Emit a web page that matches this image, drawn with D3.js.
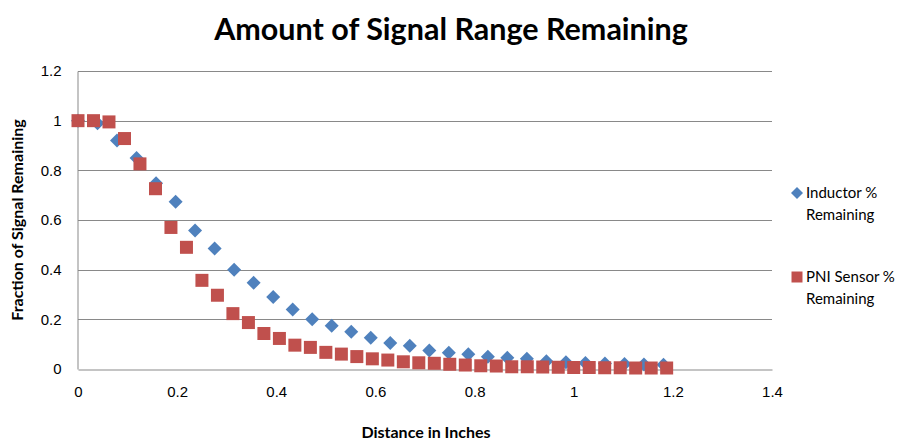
<!DOCTYPE html>
<html>
<head>
<meta charset="utf-8">
<script src="https://cdn.jsdelivr.net/npm/d3@7"></script>
<style>
  html, body { margin: 0; padding: 0; background: #fff; }
  svg { display: block; font-family: Lato, "Open Sans", sans-serif; }
</style>
</head>
<body>
<svg id="chart" width="901" height="441"></svg>
<script>
// Distances in inches for each series
const inductorDistance = [0, 0.0394, 0.0787, 0.1181, 0.1575, 0.1969, 0.2362, 0.2756, 0.315, 0.3543,
  0.3937, 0.4331, 0.4724, 0.5118, 0.5512, 0.5906, 0.6299, 0.6693, 0.7087, 0.748,
  0.7874, 0.8268, 0.8661, 0.9055, 0.9449, 0.9843, 1.0236, 1.063, 1.1024, 1.1417, 1.1811];
const inductorRemaining = [1.0, 0.99, 0.92, 0.85, 0.748, 0.673, 0.558, 0.485, 0.40, 0.347,
  0.29, 0.24, 0.20, 0.174, 0.15, 0.126, 0.105, 0.094, 0.074, 0.065,
  0.059, 0.049, 0.045, 0.041, 0.031, 0.027, 0.024, 0.022, 0.02, 0.018, 0.017];

const pniDistance = [0, 0.0313, 0.0625, 0.0938, 0.125, 0.1563, 0.1875, 0.2188, 0.25, 0.2813,
  0.3125, 0.3438, 0.375, 0.4063, 0.4375, 0.4688, 0.5, 0.5313, 0.5625, 0.5938,
  0.625, 0.6563, 0.6875, 0.7188, 0.75, 0.7813, 0.8125, 0.8438, 0.875, 0.9063,
  0.9375, 0.9688, 1.0, 1.0313, 1.0625, 1.0938, 1.125, 1.1563, 1.1875];
const pniRemaining = [1.0, 1.0, 0.995, 0.928, 0.826, 0.726, 0.57, 0.49, 0.357, 0.297,
  0.223, 0.187, 0.143, 0.123, 0.096, 0.087, 0.067, 0.06, 0.05, 0.041,
  0.036, 0.029, 0.025, 0.023, 0.019, 0.016, 0.013, 0.012, 0.009, 0.009,
  0.008, 0.007, 0.006, 0.006, 0.005, 0.005, 0.004, 0.004, 0.004];

const xTicks = [0, 0.2, 0.4, 0.6, 0.8, 1, 1.2, 1.4];
const yTicks = [0, 0.2, 0.4, 0.6, 0.8, 1, 1.2];

const seriesNames = ["Inductor %|Remaining", "PNI Sensor %|Remaining"];
const seriesColors = ["#4F81BD", "#C0504D"];

const svg = d3.select("#chart");
const plot = { left: 78, right: 772, top: 71, bottom: 369 };

const x = d3.scaleLinear().domain([0, 1.4]).range([plot.left, plot.right]);
const y = d3.scaleLinear().domain([0, 1.2]).range([plot.bottom, plot.top]);

const gridColor = "#898989";

// Horizontal gridlines
svg.append("g")
  .selectAll("line")
  .data(yTicks.filter(d => d > 0))
  .join("line")
  .attr("x1", plot.left).attr("x2", plot.right)
  .attr("y1", d => Math.round(y(d)) + 0.5).attr("y2", d => Math.round(y(d)) + 0.5)
  .attr("stroke", gridColor).attr("stroke-width", 1);

// Axes (no tick marks, labels only)
const xAxis = svg.append("g")
  .attr("transform", `translate(0,${plot.bottom + 0.5})`)
  .call(d3.axisBottom(x).tickValues(xTicks).tickSize(0).tickPadding(17).tickFormat(d3.format("~g")));
xAxis.select(".domain").attr("stroke", gridColor);
xAxis.selectAll("text").attr("font-size", 15).attr("fill", "#000");

const yAxis = svg.append("g")
  .attr("transform", `translate(${plot.left - 0.5},0)`)
  .call(d3.axisLeft(y).tickValues(yTicks).tickSize(0).tickPadding(16).tickFormat(d3.format("~g")));
yAxis.select(".domain").attr("stroke", gridColor);
yAxis.selectAll("text").attr("font-size", 15).attr("fill", "#000");

// Markers
const diamond = "M0,-7L7,0L0,7L-7,0Z";
const square = "M-6.5,-6.5H6.5V6.5H-6.5Z";

svg.append("g")
  .selectAll("path")
  .data(inductorDistance.map((d, i) => [d, inductorRemaining[i]]))
  .join("path")
  .attr("d", diamond)
  .attr("transform", d => `translate(${x(d[0])},${y(d[1])})`)
  .attr("fill", seriesColors[0]);

svg.append("g")
  .selectAll("path")
  .data(pniDistance.map((d, i) => [d, pniRemaining[i]]))
  .join("path")
  .attr("d", square)
  .attr("transform", d => `translate(${x(d[0])},${y(d[1])})`)
  .attr("fill", seriesColors[1]);

// Title
svg.append("text")
  .attr("x", 451).attr("y", 40)
  .attr("text-anchor", "middle")
  .attr("font-size", 30.5).attr("font-weight", "bold")
  .text("Amount of Signal Range Remaining");

// Axis titles
svg.append("text")
  .attr("x", 426).attr("y", 438)
  .attr("text-anchor", "middle")
  .attr("font-size", 16).attr("font-weight", "bold")
  .text("Distance in Inches");

svg.append("text")
  .attr("transform", "translate(23,220) rotate(-90)")
  .attr("text-anchor", "middle")
  .attr("font-size", 16).attr("font-weight", "bold")
  .text("Fraction of Signal Remaining");

// Legend
const legend = svg.append("g").attr("transform", "translate(797,193)");
const legendItems = legend.selectAll("g")
  .data(seriesNames)
  .join("g")
  .attr("transform", (d, i) => `translate(0,${i * 84})`);
legendItems.append("path")
  .attr("d", (d, i) => i === 0 ? "M0,-6L6,0L0,6L-6,0Z" : "M-5.5,-5.5H5.5V5.5H-5.5Z")
  .attr("fill", (d, i) => seriesColors[i]);
legendItems.each(function(d) {
  const t = d3.select(this).append("text")
    .attr("x", 9).attr("y", 5)
    .attr("font-size", 15).attr("fill", "#000");
  d.split("|").forEach((line, j) => {
    t.append("tspan").attr("x", 9).attr("dy", j === 0 ? 0 : 22).text(line);
  });
});
</script>
</body>
</html>
